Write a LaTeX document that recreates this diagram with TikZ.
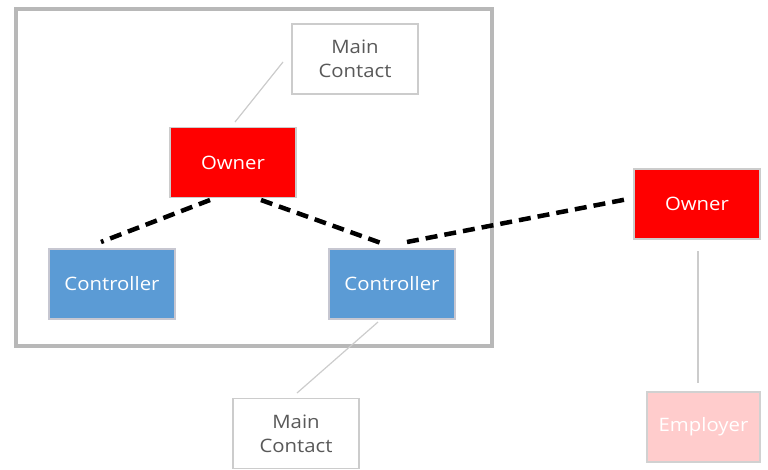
\documentclass[tikz,border=0pt]{standalone}
\usepackage{fontspec}
\setmainfont[FakeStretch=1.1]{Open Sans}
\begin{document}
\begin{tikzpicture}[x=1pt,y=-1pt,
  box/.style={draw=#1, line width=1.2pt, minimum width=126pt, minimum height=70pt,
    inner sep=0pt, align=center, font=\fontsize{18.5}{24}\selectfont},
  owner/.style={box=black!20, fill=red, text=white},
  ctrl/.style={box=blue!10!gray!40, fill=ctrlblue, text=white},
  contact/.style={box=black!20, fill=white, text=black!65},
  employer/.style={box=black!18, fill=red!20, text=white},
  tie/.style={black, line width=4.5pt, dash pattern=on 12pt off 7pt},
  thin/.style={black!20, line width=1.2pt}]
\definecolor{ctrlblue}{HTML}{5B9BD5}
\useasboundingbox (0,0) rectangle (768,469);
% enclosing frame
\draw[black!28, line width=4pt] (16,9) rectangle (492,346);
% nodes
\node[contact] (mc1) at (355,59) {Main\\Contact};
\node[owner] (own1) at (233,162.5) {Owner};
\node[ctrl] (c1) at (112,284) {Controller};
\node[ctrl] (c2) at (392,284) {Controller};
\node[owner] (own2) at (697,204) {Owner};
\node[contact] (mc2) at (296,433.5) {Main\\Contact};
\node[employer, minimum width=113pt] (emp) at (703.5,427) {Employer};
% thin links
\coordinate (a1) at (283,62); \coordinate (a2) at (235,122);
\draw[thin] (a1) -- (a2);
\coordinate (b1) at (378,322); \coordinate (b2) at (297,393);
\draw[thin] (b1) -- (b2);
\coordinate (e1) at (698,251); \coordinate (e2) at (698,383);
\draw[thin] (e1) -- (e2);
% dashed ties
\coordinate (d1) at (210,200); \coordinate (d2) at (101,242);
\draw[tie] (d1) -- (d2);
\coordinate (d3) at (261,200); \coordinate (d4) at (381,243);
\draw[tie] (d3) -- (d4);
\coordinate (d5) at (407,242); \coordinate (d6) at (628,199);
\draw[tie] (d5) -- (d6);
\end{tikzpicture}
\end{document}
